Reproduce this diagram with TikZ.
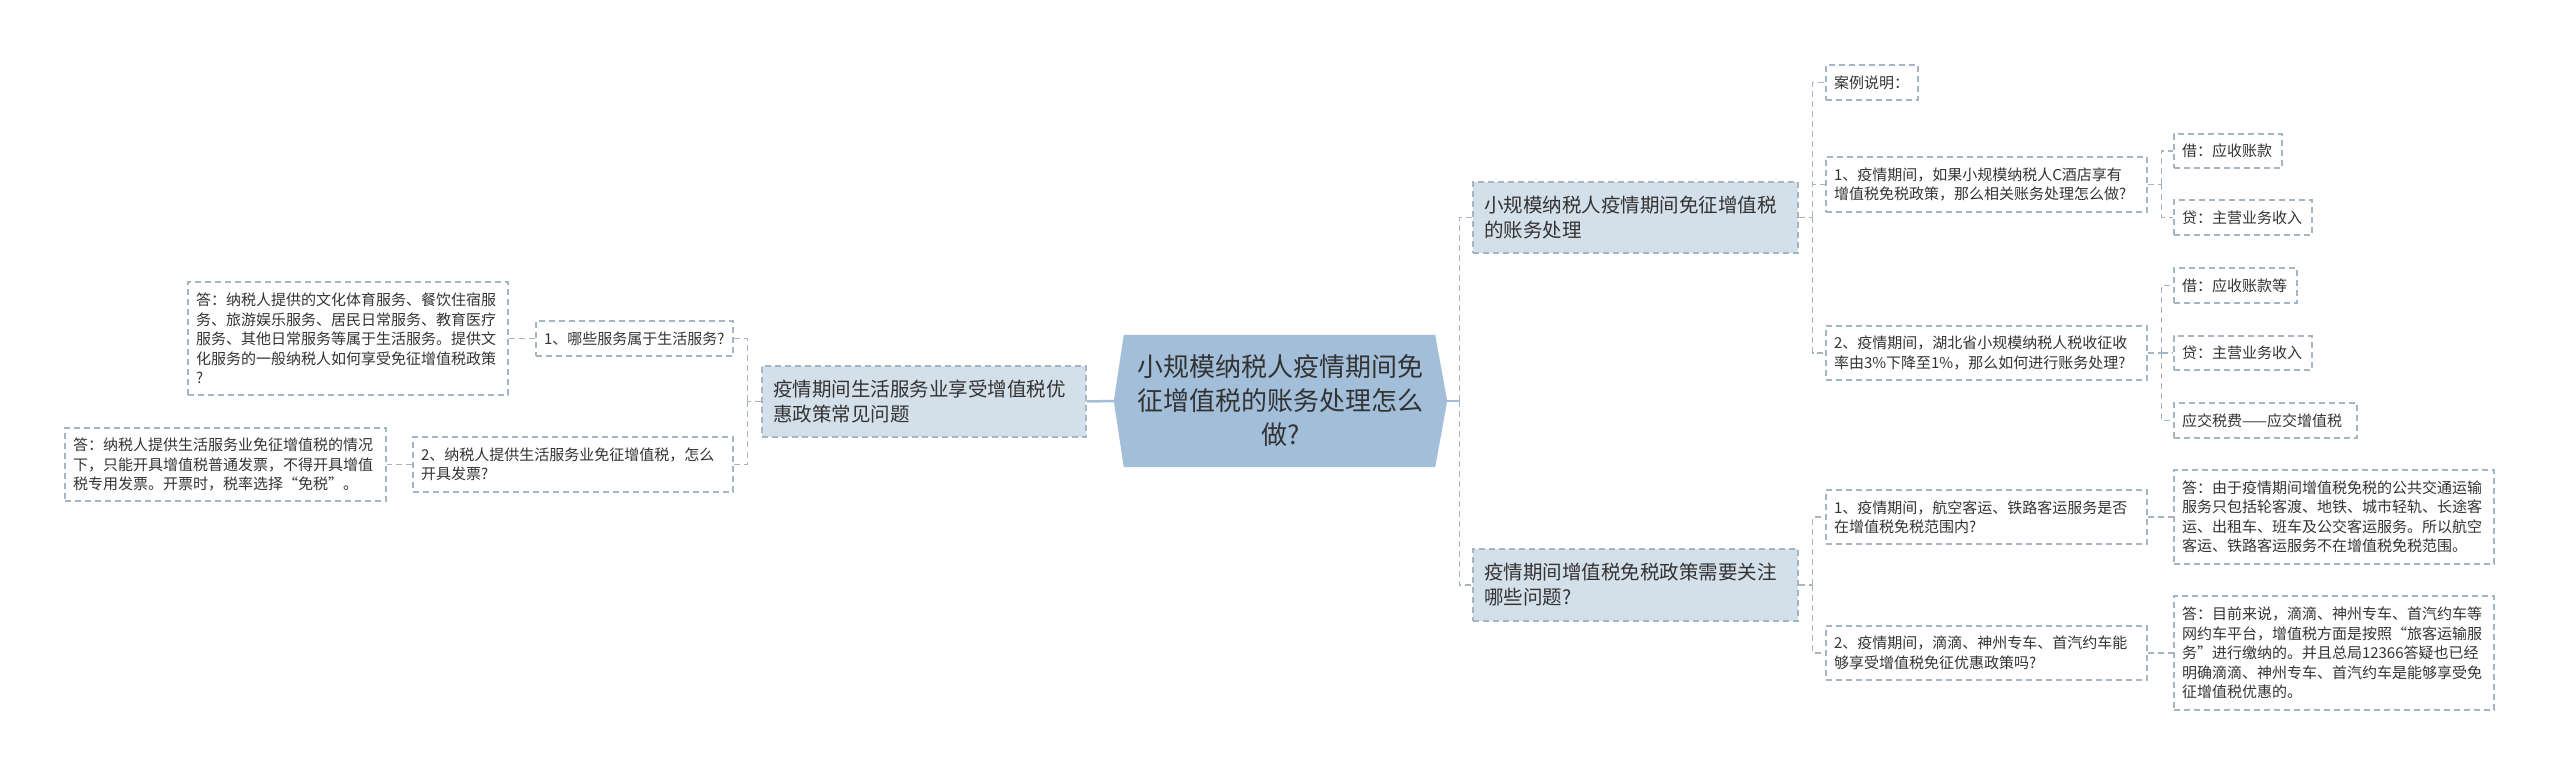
\documentclass[tikz,border=0pt]{standalone}
\usepackage{fontspec}
\setmainfont{Noto Sans CJK SC}
\usetikzlibrary{calc,backgrounds}
\definecolor{rootfill}{HTML}{A3BED9}
\definecolor{brfill}{HTML}{D3DFE9}
\definecolor{dashc}{HTML}{A6B5C4}
\definecolor{mainc}{HTML}{A3BED9}
\definecolor{txt}{HTML}{333333}
\begin{document}
\begin{tikzpicture}[x=1pt,y=-1pt,
  box/.style={draw=dashc, line width=1.2pt, dash pattern=on 6pt off 4pt, rectangle, inner xsep=8pt, inner ysep=0pt, align=left, text=txt, anchor=center},
  leaf/.style={box, font=\fontsize{15}{19.5}\selectfont},
  branch/.style={box, fill=brfill, inner xsep=11pt, font=\fontsize{19.5}{25}\selectfont},
  conn/.style={draw=dashc, line width=1.2pt, dash pattern=on 6pt off 4pt},
  mainline/.style={draw=mainc, line width=2.5pt},
]
\useasboundingbox (0,0) rectangle (2560,775);

% root
\node[rectangle, minimum width=333pt, minimum height=132pt, inner sep=0pt, align=center, text=txt, font=\fontsize{26}{34}\selectfont] (root) at (1280.5,401) {小规模纳税人疫情期间免\\征增值税的账务处理怎么\\做?};
\begin{scope}[on background layer]
\fill[rootfill] (root.west) -- ($(root.north west)+(10,0)$) -- ($(root.north east)+(-12,0)$) -- (root.east) -- ($(root.south east)+(-12,0)$) -- ($(root.south west)+(10,0)$) -- cycle;
\end{scope}

% left side
\node[branch, minimum width=324pt, minimum height=71pt, text width=302pt] (L) at (924,401.5) {疫情期间生活服务业享受增值税优\\惠政策常见问题};
\node[leaf, minimum width=197pt, minimum height=35pt, text width=181pt] (L1) at (634.5,338.5) {1、哪些服务属于生活服务?};
\node[leaf, minimum width=320pt, minimum height=55pt, text width=304pt] (L2) at (573,464.5) {2、纳税人提供生活服务业免征增值税，怎么\\开具发票?};
\node[leaf, minimum width=320pt, minimum height=113pt, text width=304pt] (LA1) at (348,338.5) {答：纳税人提供的文化体育服务、餐饮住宿服\\务、旅游娱乐服务、居民日常服务、教育医疗\\服务、其他日常服务等属于生活服务。提供文\\化服务的一般纳税人如何享受免征增值税政策\\?};
\node[leaf, minimum width=321pt, minimum height=73pt, text width=305pt] (LA2) at (225.5,464.5) {答：纳税人提供生活服务业免征增值税的情况\\下，只能开具增值税普通发票，不得开具增值\\税专用发票。开票时，税率选择“免税”。};

% right side branches
\node[branch, minimum width=325pt, minimum height=71pt, text width=303pt] (R1) at (1635.5,217.5) {小规模纳税人疫情期间免征增值税\\的账务处理};
\node[branch, minimum width=325pt, minimum height=72pt, text width=303pt] (R2) at (1635.5,585) {疫情期间增值税免税政策需要关注\\哪些问题?};

% R1 children
\node[leaf, minimum width=92pt, minimum height=35pt, text width=76pt] (R1c) at (1872,82.5) {案例说明：};
\node[leaf, minimum width=321pt, minimum height=55pt, text width=305pt] (R1a) at (1986.5,184.5) {1、疫情期间，如果小规模纳税人C酒店享有\\增值税免税政策，那么相关账务处理怎么做?};
\node[leaf, minimum width=321pt, minimum height=54pt, text width=305pt] (R1b) at (1986.5,353) {2、疫情期间，湖北省小规模纳税人税收征收\\率由3\%下降至1\%，那么如何进行账务处理?};

\node[leaf, minimum width=108pt, minimum height=34pt, text width=92pt] (J1) at (2228,151) {借：应收账款};
\node[leaf, minimum width=138pt, minimum height=35pt, text width=122pt] (D1) at (2243,217.5) {贷：主营业务收入};
\node[leaf, minimum width=123pt, minimum height=35pt, text width=107pt] (J2) at (2235.5,285.5) {借：应收账款等};
\node[leaf, minimum width=138pt, minimum height=34pt, text width=122pt] (D2) at (2243,353) {贷：主营业务收入};
\node[leaf, minimum width=183pt, minimum height=35pt, text width=167pt] (T2) at (2265.5,420.5) {应交税费——应交增值税};

% R2 children
\node[leaf, minimum width=321pt, minimum height=54pt, text width=305pt] (R2a) at (1986.5,517) {1、疫情期间，航空客运、铁路客运服务是否\\在增值税免税范围内?};
\node[leaf, minimum width=321pt, minimum height=54pt, text width=305pt] (R2b) at (1986.5,653) {2、疫情期间，滴滴、神州专车、首汽约车能\\够享受增值税免征优惠政策吗?};
\node[leaf, minimum width=320pt, minimum height=94pt, text width=304pt] (A1) at (2334,517) {答：由于疫情期间增值税免税的公共交通运输\\服务只包括轮客渡、地铁、城市轻轨、长途客\\运、出租车、班车及公交客运服务。所以航空\\客运、铁路客运服务不在增值税免税范围。};
\node[leaf, minimum width=320pt, minimum height=114pt, text width=304pt] (A2) at (2334,653) {答：目前来说，滴滴、神州专车、首汽约车等\\网约车平台，增值税方面是按照“旅客运输服\\务”进行缴纳的。并且总局12366答疑也已经\\明确滴滴、神州专车、首汽约车是能够享受免\\征增值税优惠的。};

% connectors
\draw[mainline] (root.west) -- (L.east);
\coordinate (rb) at ($(root.east)+(12,0)$);
\draw[mainline] (root.east) -- (rb);
\draw[conn] (rb) |- (R1.west);
\draw[conn] (rb) |- (R2.west);

\coordinate (lb) at ($(L.west)+(-14,0)$);
\draw[conn] (L.west) -- (lb);
\draw[conn] (lb) |- (L1.east);
\draw[conn] (lb) |- (L2.east);
\draw[conn] (L1.west) -- (LA1.east);
\draw[conn] (L2.west) -- (LA2.east);

\coordinate (r1b) at ($(R1.east)+(14,0)$);
\draw[conn] (R1.east) -- (r1b);
\draw[conn] (r1b) |- (R1c.west);
\draw[conn] (r1b) |- (R1a.west);
\draw[conn] (r1b) |- (R1b.west);

\coordinate (r1ab) at ($(R1a.east)+(14,0)$);
\draw[conn] (R1a.east) -- (r1ab);
\draw[conn] (r1ab) |- (J1.west);
\draw[conn] (r1ab) |- (D1.west);

\coordinate (r1bb) at ($(R1b.east)+(14,0)$);
\draw[conn] (R1b.east) -- (r1bb);
\draw[conn] (r1bb) |- (J2.west);
\draw[conn] (r1bb) |- (D2.west);
\draw[conn] (r1bb) |- (T2.west);

\coordinate (r2b) at ($(R2.east)+(14,0)$);
\draw[conn] (R2.east) -- (r2b);
\draw[conn] (r2b) |- (R2a.west);
\draw[conn] (r2b) |- (R2b.west);
\draw[conn] (R2a.east) -- (A1.west);
\draw[conn] (R2b.east) -- (A2.west);
\end{tikzpicture}
\end{document}
